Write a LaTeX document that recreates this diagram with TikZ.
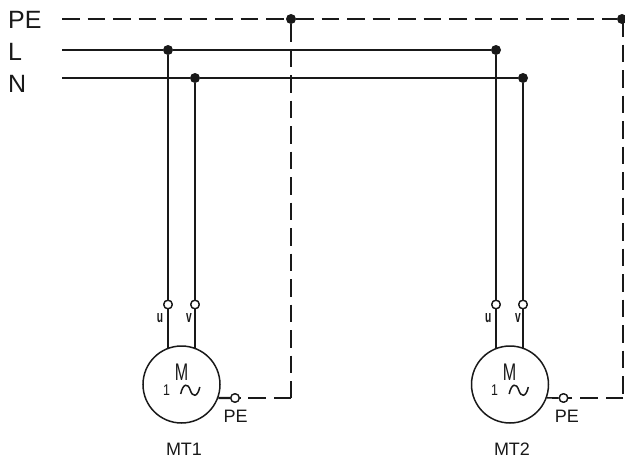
\documentclass[tikz,border=0pt]{standalone}
\usepackage{fontspec}
\setmainfont{Liberation Sans}
\newcommand{\pxfont}[1]{\fontsize{#1}{#1}\selectfont}
\tikzset{
  every picture/.style={x=1pt,y=-1pt},
  wire/.style={line width=1.6pt,color=black!90},
  earth/.style={wire,dash pattern=on 17.5pt off 8pt},
  dotj/.style={circle,fill=black!90,draw=none,minimum size=10pt,inner sep=0pt},
  term/.style={circle,draw=black!90,line width=1.3pt,fill=white,minimum size=8.5pt,inner sep=0pt},
  motor/.style={circle,draw=black!90,line width=1.5pt,fill=white,minimum size=77pt,inner sep=0pt},
  biglabel/.style={inner sep=0pt,font=\pxfont{25},text=black!90},
  smalllabel/.style={inner sep=0pt,font=\pxfont{18},text=black!90},
  pinlabel/.style={inner sep=0pt,font=\bfseries\pxfont{17},text=black!90,xscale=0.6},
  mlabel/.style={inner sep=0pt,font=\pxfont{24},text=black!90,xscale=0.67},
  onelabel/.style={inner sep=0pt,font=\pxfont{15.5},text=black!90,xscale=0.8},
  tilde/.style={line width=1.5pt,color=black!90},
}
\begin{document}
\begin{tikzpicture}
\useasboundingbox (0,0) rectangle (625,458);
% labels
\node[biglabel,anchor=west] (lpe) at (8,19.5) {PE};
\node[biglabel,anchor=west] (ll) at (8,52) {L};
\node[biglabel,anchor=west] (ln) at (8,84) {N};
% bus starts
\coordinate (pes) at (62,19);
\coordinate (ls) at (62,50);
\coordinate (ns) at (62,78);
% junctions
\node[dotj] (j1) at (168,50) {};
\node[dotj] (j2) at (195,78) {};
\node[dotj] (j3) at (291,19) {};
\node[dotj] (j4) at (496,50) {};
\node[dotj] (j5) at (523,78) {};
\node[dotj] (j6) at (622,19) {};
% motors
\node[motor] (m1) at (181.5,384.5) {};
\node[motor] (m2) at (510,384.5) {};
% terminals
\node[term] (t1) at (168,304.5) {};
\node[term] (t2) at (195,304.5) {};
\node[term] (t3) at (496,304.5) {};
\node[term] (t4) at (523,304.5) {};
\node[term] (p1) at (235,398) {};
\node[term] (p2) at (563.5,398) {};
% motor wire ends
\coordinate (e1) at (168,348);
\coordinate (e2) at (195,348);
\coordinate (e3) at (496,348);
\coordinate (e4) at (523,348);
% corners
\coordinate (c1) at (291,398);
\coordinate (c0) at (623,19);
\coordinate (c2) at (623,398);
% wires
\draw[wire] (ls) -- (j1) -- (j4);
\draw[wire] (ns) -- (j2) -- (j5);
\draw[earth] (pes) -- (j3);
\draw[earth] (j3) -- (j6);
\draw[earth] (j3) -- (c1);
\draw[earth] (c1) -- (p1);
\draw[earth] (c0) -- (c2);
\draw[earth] (c2) -- (p2);
\draw[wire] (j1) -- (t1) -- (e1);
\draw[wire] (j2) -- (t2) -- (e2);
\draw[wire] (j4) -- (t3) -- (e3);
\draw[wire] (j5) -- (t4) -- (e4);
\draw[wire,line width=2.2pt] (m1.-20) -- (p1);
\draw[wire] (m2.-20) -- (p2);
% redraw motor outlines and terminals on top
\node[term] at (p1) {};
\node[term] at (p2) {};
\node[term] at (t1) {};
\node[term] at (t2) {};
\node[term] at (t3) {};
\node[term] at (t4) {};
% motor inscriptions
\node[mlabel] (mm1) at (181.5,372) {M};
\node[mlabel] (mm2) at (509.5,372) {M};
\node[onelabel] (o1) at (166.5,390) {1};
\node[onelabel] (o2) at (494.5,390) {1};
\draw[tilde] (180.7,394) .. controls (183,383) and (188,383) .. (190.2,390) .. controls (192.5,397.5) and (197.5,397.5) .. (199.8,387);
\draw[tilde] (509.2,394) .. controls (511.5,383) and (516.5,383) .. (518.7,390) .. controls (521,397.5) and (526,397.5) .. (528.3,387);
% pin labels
\node[pinlabel] (u1) at (160,318) {u};
\node[pinlabel] (v1) at (189,318) {v};
\node[pinlabel] (u2) at (488.3,318) {u};
\node[pinlabel] (v2) at (518,318) {v};
\node[smalllabel] (pe1) at (235.7,416) {PE};
\node[smalllabel] (pe2) at (566.8,416) {PE};
\node[smalllabel] (mt1) at (184,449) {MT1};
\node[smalllabel] (mt2) at (512,449) {MT2};
\end{tikzpicture}
\end{document}
